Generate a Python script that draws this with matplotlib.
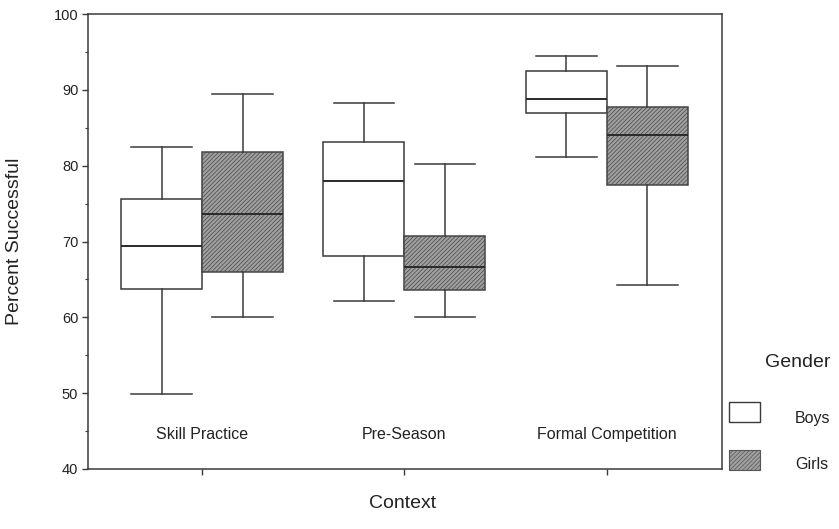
import matplotlib
matplotlib.use("Agg")
import matplotlib.pyplot as plt
from matplotlib.patches import Rectangle
import numpy as np

plt.rcParams['font.family'] = ['Liberation Sans', 'DejaVu Sans']
plt.rcParams['hatch.linewidth'] = 0.5

contexts = ["Skill Practice", "Pre-Season", "Formal Competition"]
genders = ["Boys", "Girls"]

# five-number summaries: whisker low, Q1, median, Q3, whisker high
boys_whislo = [49.9, 62.1, 81.1]
boys_q1 = [63.7, 68.1, 86.9]
boys_med = [69.4, 78.0, 88.8]
boys_q3 = [75.6, 83.1, 92.5]
boys_whishi = [82.4, 88.3, 94.4]

girls_whislo = [60.1, 60.1, 64.2]
girls_q1 = [66.0, 63.6, 77.5]
girls_med = [73.6, 66.7, 84.0]
girls_q3 = [81.8, 70.7, 87.7]
girls_whishi = [89.5, 80.2, 93.2]

yticks = [40, 50, 60, 70, 80, 90, 100]

ink = '#3a3a3a'
girls_face = '#a0a0a0'
hatch_pat = '////////'

fig = plt.figure(figsize=(8.39, 5.29), dpi=100)
ax = fig.add_axes([88/839, 60/529, 634/839, 455/529])

def make_stats(lo, q1, med, q3, hi):
    return [dict(whislo=a, q1=b, med=c, q3=d, whishi=e, fliers=[])
            for a, b, c, d, e in zip(lo, q1, med, q3, hi)]

x = np.arange(len(contexts))
common = dict(widths=0.4, showfliers=False, patch_artist=True, capwidths=0.3,
              whiskerprops=dict(color=ink, linewidth=1.1),
              capprops=dict(color=ink, linewidth=1.1),
              medianprops=dict(color='#2a2a2a', linewidth=1.4))

b1 = ax.bxp(make_stats(boys_whislo, boys_q1, boys_med, boys_q3, boys_whishi),
            positions=x - 0.2,
            boxprops=dict(facecolor='white', edgecolor=ink, linewidth=1.1), **common)
b2 = ax.bxp(make_stats(girls_whislo, girls_q1, girls_med, girls_q3, girls_whishi),
            positions=x + 0.2,
            boxprops=dict(facecolor=girls_face, edgecolor='#454545', linewidth=1.1,
                          hatch=hatch_pat), **common)

ax.set_xlim(-0.563, 2.568)
ax.set_ylim(40, 100)
ax.set_yticks(yticks)
ax.set_yticks(np.arange(45, 100, 10), minor=True)
ax.set_xticks(x)
ax.set_xticklabels([])
ax.tick_params(axis='y', which='major', length=4, width=1, color=ink,
               labelsize=10.5, labelcolor='#222', pad=3)
ax.tick_params(axis='y', which='minor', length=2.5, width=0.8, color=ink)
ax.tick_params(axis='x', length=4, width=1, color=ink)

for s in ax.spines.values():
    s.set_color(ink)
    s.set_linewidth(1.1)

for xi, name in zip(x, contexts):
    ax.text(xi, 44.6, name, ha='center', va='center', fontsize=11.5, color='#222')

ax.set_ylabel("Percent Successful", fontsize=14, color='#222')
ax.yaxis.set_label_coords(-0.103, 0.5)
ax.set_xlabel("Context", fontsize=14, color='#222')
ax.xaxis.set_label_coords(0.496, -0.057)

# legend
fig.text(765/839, 1 - 367/529, "Gender", fontsize=14, color='#222', va='baseline')
fig.add_artist(Rectangle((729/839, 1 - 422/529), 31/839, 20/529,
                         transform=fig.transFigure, facecolor='white',
                         edgecolor=ink, linewidth=1.0))
fig.add_artist(Rectangle((729/839, 1 - 470/529), 31/839, 20/529,
                         transform=fig.transFigure, facecolor=girls_face,
                         edgecolor='#555555', linewidth=0.8, hatch=hatch_pat))
fig.text(795/839, 1 - 423/529, genders[0], fontsize=11.5, color='#222', va='baseline')
fig.text(795/839, 1 - 469/529, genders[1], fontsize=11.5, color='#222', va='baseline')

fig.savefig("out.png", dpi=100)
